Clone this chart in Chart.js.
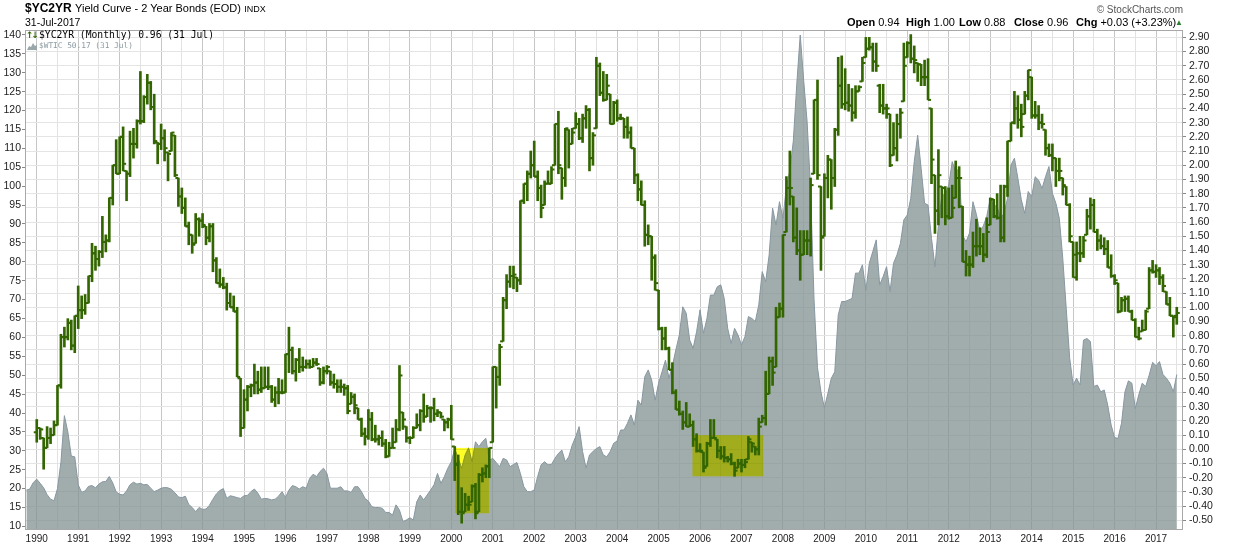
<!DOCTYPE html>
<html>
<head>
<meta charset="utf-8">
<title>$YC2YR Yield Curve - 2 Year Bonds</title>
<script src="https://cdn.jsdelivr.net/npm/chart.js@4.4.1/dist/chart.umd.min.js"></script>
<style>
  html, body { margin: 0; padding: 0; background: #fff; }
  #wrap { position: relative; width: 1248px; height: 552px; overflow: hidden; }
  #c { position: absolute; left: 0; top: 0; }
  .txt { position: absolute; white-space: nowrap; font-family: "Liberation Sans", Arial, sans-serif; color: #000; }
  .mono { font-family: "DejaVu Sans Mono", monospace; }
</style>
</head>
<body>
<div id="wrap">
  <canvas id="c" width="1248" height="552"></canvas>

  <div class="txt" style="left:25px; top:1px; font-size:12px; line-height:14px;"><b>$YC2YR</b> <span style="font-size:11px;">Yield Curve - 2 Year Bonds (EOD)</span> <span style="font-size:9px;">INDX</span></div>
  <div class="txt" style="left:25px; top:16px; font-size:10.5px; line-height:12px;">31-Jul-2017</div>

  <div class="txt" style="right:65px; top:4px; font-size:10px; line-height:11px; color:#555;">&copy; StockCharts.com</div>
  <div class="txt" style="left:847px; top:16px; font-size:11px; line-height:13px;"><b>Open</b> 0.94</div>
  <div class="txt" style="left:906px; top:16px; font-size:11px; line-height:13px;"><b>High</b> 1.00</div>
  <div class="txt" style="left:959px; top:16px; font-size:11px; line-height:13px;"><b>Low</b> 0.88</div>
  <div class="txt" style="left:1014px; top:16px; font-size:11px; line-height:13px;"><b>Close</b> 0.96</div>
  <div class="txt" style="left:1076px; top:16px; font-size:11px; line-height:13px;"><b>Chg</b> +0.03 (+3.23%)</div>
  <div class="txt" style="left:1175px; top:18px; font-size:8px; line-height:10px; color:#2e7d2e;">&#9650;</div>

  <div class="txt" style="left:26px; top:30px; font:bold 9px/10px 'DejaVu Sans', sans-serif; color:#336600; letter-spacing:-2px;">&#8593;&#8595;</div>
  <div class="txt mono" style="left:39px; top:30px; font-size:9.7px; line-height:10px;">$YC2YR (Monthly) 0.96 (31 Jul)</div>
  <svg style="position:absolute; left:27px; top:42px;" width="10" height="8"><path d="M0 8 L2 4 L4 5 L6 1 L8 4 L10 3 L10 8 Z" fill="#9aa8ab"/></svg>
  <div class="txt mono" style="left:39px; top:41px; font-size:7.8px; line-height:9px; color:#8a99a0;">$WTIC 50.17 (31 Jul)</div>
</div>

<script>
// x is months since Jan 1990 (0 = Jan 1990)
const yearTicks = [1990, 1991, 1992, 1993, 1994, 1995, 1996, 1997, 1998, 1999, 2000, 2001, 2002, 2003,
  2004, 2005, 2006, 2007, 2008, 2009, 2010, 2011, 2012, 2013, 2014, 2015, 2016, 2017];
const leftTicks = [10, 15, 20, 25, 30, 35, 40, 45, 50, 55, 60, 65, 70, 75, 80, 85, 90, 95, 100,
  105, 110, 115, 120, 125, 130, 135, 140];
const rightTicks = [-0.5, -0.4, -0.3, -0.2, -0.1, 0, 0.1, 0.2, 0.3, 0.4, 0.5, 0.6, 0.7, 0.8, 0.9, 1.0,
  1.1, 1.2, 1.3, 1.4, 1.5, 1.6, 1.7, 1.8, 1.9, 2.0, 2.1, 2.2, 2.3, 2.4, 2.5, 2.6, 2.7, 2.8, 2.9];

// $YC2YR monthly bars, Jan 1990 .. Jul 2017
const ycOpen = [
  .12, .15, .08, .01, .08, .10, .17, .45, .79, .79, .89, .73,
  .94, .98, .98, 1.03, 1.22, 1.38, 1.34, 1.39, 1.46, 1.47, 1.77, 2.00,
  1.94, 2.20, 1.96, 1.94, 2.15, 2.15, 2.31, 2.31, 2.48, 2.58, 2.41, 2.16,
  2.15, 2.19, 2.09, 2.10, 2.21, 1.91, 1.78, 1.70, 1.57, 1.51, 1.45, 1.62,
  1.61, 1.57, 1.49, 1.57, 1.33, 1.17, 1.16, 1.14, 1.03, 1.00, .97, .50,
  .15, .35, .44, .45, .47, .42, .43, .44, .44, .35, .40, .40,
  .40, .67, .70, .55, .63, .58, .58, .60, .58, .61, .57, .47,
  .55, .55, .47, .46, .44, .44, .43, .32, .37, .29, .21, .11,
  .09, .21, .07, .07, .08, .04, -.05, .01, .05, .14, .26, .16,
  .08, .08, .15, .17, .27, .23, .29, .29, .25, .26, .21, .19,
  .21, .02, -.10, -.44, -.44, -.39, -.37, -.26, -.44, -.18, -.17, -.12,
  .05, .58, .51, .76, 1.05, 1.18, 1.22, 1.21, 1.19, 1.75, 1.87, 1.94,
  2.00, 1.92, 1.84, 1.72, 1.87, 1.87, 2.00, 2.29, 1.98, 1.91, 2.25, 2.15,
  2.26, 2.29, 2.19, 2.33, 2.39, 2.05, 2.26, 2.70, 2.51, 2.46, 2.50, 2.29,
  2.44, 2.33, 2.33, 2.27, 2.23, 2.12, 1.93, 1.83, 1.72, 1.51, 1.50, 1.35,
  1.12, .85, .78, .71, .56, .40, .28, .25, .19, .16, .17, .07,
  -.01, -.02, -.12, .04, .08, .07, -.01, -.05, -.06, -.07, -.10, -.13,
  -.10, -.11, -.07, .05, .02, .00, .19, .22, .39, .62, .58, .93,
  .99, 1.53, 1.84, 1.78, 1.49, 1.40, 1.37, 1.47, 1.47, 1.94, 2.46, 1.85,
  1.50, 1.91, 2.04, 1.91, 2.25, 2.56, 2.43, 2.44, 2.42, 2.37, 2.52, 2.59,
  2.76, 2.82, 2.83, 2.73, 2.56, 2.42, 2.40, 2.36, 2.07, 2.12, 2.29, 2.45,
  2.76, 2.86, 2.75, 2.72, 2.71, 2.62, 2.62, 2.40, 1.93, 1.68, 1.85, 1.84,
  1.64, 1.63, 1.77, 1.91, 1.71, 1.32, 1.30, 1.30, 1.43, 1.43, 1.43, 1.37,
  1.58, 1.76, 1.64, 1.63, 1.49, 1.85, 2.17, 2.30, 2.40, 2.32, 2.36, 2.49,
  2.62, 2.35, 2.35, 2.30, 2.25, 2.12, 2.07, 2.05, 1.96, 1.91, 1.85, 1.72,
  1.46, 1.21, 1.38, 1.38, 1.51, 1.64, 1.72, 1.53, 1.47, 1.43, 1.41, 1.28,
  1.22, 1.17, .97, 1.05, 1.06, .97, .91, .79, .83, .84, .99, 1.26,
  1.25, 1.26, 1.21, 1.11, 1.02, .94, .94
];
const ycHigh = [
  .21, .15, .08, .16, .15, .20, .45, .81, .86, .92, .91, .94,
  1.15, 1.08, 1.09, 1.22, 1.45, 1.43, 1.40, 1.64, 1.51, 1.77, 2.00, 2.18,
  2.20, 2.27, 1.96, 2.24, 2.26, 2.32, 2.66, 2.49, 2.64, 2.59, 2.50, 2.16,
  2.29, 2.25, 2.09, 2.23, 2.21, 1.91, 1.84, 1.77, 1.60, 1.51, 1.66, 1.63,
  1.66, 1.57, 1.59, 1.59, 1.35, 1.27, 1.21, 1.17, 1.10, 1.08, 1.00, .50,
  .42, .45, .46, .60, .55, .58, .58, .58, .45, .44, .50, .49,
  .67, .86, .72, .64, .71, .65, .63, .63, .64, .64, .57, .58,
  .59, .55, .53, .49, .49, .46, .45, .40, .39, .29, .22, .15,
  .28, .26, .17, .10, .13, .07, .05, .15, .21, .59, .26, .16,
  .09, .16, .25, .28, .39, .31, .30, .36, .28, .26, .21, .22,
  .31, .02, -.04, -.27, -.31, -.33, -.25, -.24, -.17, -.13, -.11, .01,
  .58, .58, .74, 1.07, 1.23, 1.29, 1.29, 1.21, 1.75, 1.87, 1.96, 2.10,
  2.17, 1.96, 1.86, 1.89, 1.96, 1.99, 2.29, 2.38, 1.98, 2.26, 2.25, 2.26,
  2.37, 2.33, 2.36, 2.42, 2.40, 2.23, 2.76, 2.72, 2.66, 2.64, 2.50, 2.45,
  2.46, 2.36, 2.33, 2.34, 2.27, 2.12, 1.94, 1.89, 1.75, 1.58, 1.50, 1.37,
  1.12, .86, .86, .72, .61, .42, .34, .27, .33, .25, .20, .11,
  .04, -.02, .05, .21, .21, .07, .02, .02, -.05, -.03, -.09, -.07,
  -.07, -.07, .09, .05, .02, .22, .24, .55, .65, .65, 1.00, 1.03,
  1.51, 1.92, 2.10, 1.78, 1.70, 1.54, 1.54, 1.54, 1.91, 2.46, 2.60, 1.85,
  1.94, 2.07, 2.04, 2.26, 2.76, 2.77, 2.68, 2.57, 2.54, 2.56, 2.56, 2.76,
  2.90, 2.90, 2.86, 2.86, 2.57, 2.57, 2.43, 2.36, 2.30, 2.36, 2.40, 2.86,
  2.87, 2.92, 2.84, 2.72, 2.71, 2.74, 2.75, 2.40, 1.93, 2.11, 1.85, 1.85,
  1.84, 1.86, 2.03, 1.99, 1.71, 1.40, 1.36, 1.53, 1.62, 1.56, 1.52, 1.63,
  1.77, 1.76, 1.80, 1.86, 1.86, 2.17, 2.30, 2.52, 2.49, 2.43, 2.52, 2.67,
  2.62, 2.45, 2.42, 2.36, 2.25, 2.15, 2.15, 2.05, 2.05, 1.91, 1.85, 1.73,
  1.46, 1.46, 1.50, 1.50, 1.69, 1.77, 1.76, 1.55, 1.51, 1.49, 1.47, 1.37,
  1.23, 1.17, 1.07, 1.08, 1.08, .98, .92, .86, .91, .98, 1.28, 1.33,
  1.30, 1.28, 1.23, 1.11, 1.07, .94, 1.00
];
const ycLow = [
  .05, .07, -.14, .01, .04, .10, .17, .43, .72, .77, .70, .68,
  .85, .92, .95, 1.03, 1.18, 1.26, 1.29, 1.35, 1.39, 1.46, 1.72, 1.94,
  1.94, 1.96, 1.75, 1.92, 2.05, 2.12, 2.29, 2.30, 2.43, 2.39, 2.15, 2.01,
  2.11, 2.03, 1.89, 2.10, 1.92, 1.71, 1.66, 1.57, 1.44, 1.38, 1.45, 1.50,
  1.56, 1.44, 1.46, 1.25, 1.17, 1.14, 1.13, .98, 1.00, .97, .51, .09,
  .15, .27, .37, .39, .39, .40, .43, .42, .33, .30, .32, .39,
  .40, .54, .53, .48, .54, .55, .57, .57, .58, .59, .45, .46,
  .53, .45, .43, .40, .40, .38, .25, .32, .25, .21, .09, .03,
  .07, .06, .05, .03, .02, -.06, -.05, .01, .05, .13, .14, .05,
  .04, .08, .15, .13, .19, .23, .19, .20, .23, .22, .13, .15,
  .07, -.22, -.46, -.52, -.44, -.43, -.37, -.49, -.44, -.23, -.20, -.20,
  .05, .29, .45, .76, .99, 1.14, 1.13, 1.11, 1.16, 1.73, 1.75, 1.91,
  1.92, 1.75, 1.63, 1.72, 1.87, 1.87, 2.00, 1.94, 1.76, 1.85, 1.98, 2.15,
  2.26, 2.18, 2.16, 2.26, 1.96, 2.00, 2.26, 2.49, 2.45, 2.46, 2.29, 2.29,
  2.31, 2.32, 2.19, 2.19, 2.12, 1.87, 1.75, 1.72, 1.43, 1.44, 1.19, 1.12,
  .84, .70, .70, .56, .39, .28, .24, .14, .16, .16, .02, -.02,
  -.02, -.16, -.12, .02, .08, -.06, -.07, -.09, -.09, -.11, -.19, -.13,
  -.16, -.13, -.07, -.02, -.04, -.04, .19, .17, .39, .45, .58, .93,
  .93, 1.53, 1.72, 1.46, 1.37, 1.19, 1.37, 1.37, 1.36, 1.94, 1.90, 1.26,
  1.50, 1.77, 1.69, 1.85, 2.21, 2.40, 2.39, 2.38, 2.31, 2.33, 2.52, 2.59,
  2.76, 2.81, 2.66, 2.66, 2.37, 2.36, 2.33, 1.99, 2.07, 2.03, 2.19, 2.45,
  2.76, 2.72, 2.65, 2.59, 2.56, 2.56, 2.46, 1.87, 1.52, 1.58, 1.63, 1.58,
  1.62, 1.63, 1.77, 1.70, 1.32, 1.22, 1.22, 1.28, 1.36, 1.37, 1.32, 1.35,
  1.58, 1.63, 1.62, 1.46, 1.46, 1.78, 2.17, 2.29, 2.26, 2.20, 2.36, 2.46,
  2.33, 2.33, 2.25, 2.26, 2.07, 2.06, 1.96, 1.85, 1.89, 1.79, 1.72, 1.46,
  1.21, 1.19, 1.32, 1.35, 1.51, 1.55, 1.53, 1.40, 1.41, 1.37, 1.28, 1.21,
  1.16, .96, .97, .97, .97, .91, .79, .77, .83, .84, .99, 1.24,
  1.21, 1.16, 1.11, 1.02, .94, .79, .88
];
const ycClose = [
  .15, .14, .01, .08, .10, .17, .45, .79, .79, .89, .73, .94,
  .98, .98, 1.03, 1.22, 1.38, 1.34, 1.39, 1.46, 1.47, 1.77, 2.00, 1.94,
  2.20, 2.01, 1.94, 2.15, 2.15, 2.31, 2.31, 2.48, 2.58, 2.41, 2.17, 2.15,
  2.19, 2.12, 2.08, 2.23, 1.93, 1.78, 1.70, 1.57, 1.51, 1.44, 1.62, 1.61,
  1.58, 1.49, 1.57, 1.33, 1.17, 1.16, 1.14, 1.03, 1.00, .97, .51, .15,
  .35, .44, .45, .47, .42, .43, .44, .44, .35, .40, .40, .40,
  .67, .70, .55, .63, .58, .58, .60, .58, .61, .60, .47, .55,
  .58, .47, .46, .44, .44, .43, .27, .37, .31, .21, .11, .09,
  .21, .07, .07, .08, .04, -.05, .01, .01, .14, .52, .21, .08,
  .08, .15, .17, .27, .23, .29, .29, .25, .26, .23, .19, .21,
  .07, -.11, -.44, -.45, -.39, -.39, -.26, -.45, -.18, -.17, -.12, .01,
  .58, .51, .72, 1.05, 1.18, 1.22, 1.23, 1.19, 1.75, 1.87, 1.94, 2.00,
  1.92, 1.84, 1.70, 1.87, 1.87, 1.97, 2.29, 2.00, 1.91, 2.26, 2.15, 2.23,
  2.29, 2.19, 2.33, 2.39, 2.05, 2.21, 2.70, 2.51, 2.46, 2.56, 2.29, 2.44,
  2.33, 2.33, 2.27, 2.23, 2.12, 1.93, 1.83, 1.72, 1.51, 1.50, 1.35, 1.17,
  .85, .78, .71, .56, .40, .28, .25, .19, .16, .17, .07, -.01,
  -.01, -.13, .04, .08, .08, -.01, -.05, -.06, -.07, -.10, -.15, -.10,
  -.11, -.09, .07, .04, .00, .16, .22, .39, .62, .54, .93, .99,
  1.51, 1.84, 1.84, 1.49, 1.40, 1.37, 1.47, 1.47, 1.86, 2.46, 1.93, 1.49,
  1.91, 2.04, 1.91, 2.25, 2.56, 2.43, 2.44, 2.42, 2.37, 2.52, 2.55, 2.72,
  2.82, 2.83, 2.73, 2.70, 2.42, 2.40, 2.40, 2.00, 2.12, 2.29, 2.37, 2.70,
  2.86, 2.75, 2.74, 2.71, 2.62, 2.62, 2.46, 2.04, 1.68, 1.93, 1.84, 1.64,
  1.63, 1.70, 1.91, 1.91, 1.32, 1.30, 1.30, 1.43, 1.43, 1.43, 1.37, 1.53,
  1.76, 1.64, 1.63, 1.49, 1.85, 2.17, 2.30, 2.40, 2.32, 2.27, 2.49, 2.67,
  2.35, 2.35, 2.30, 2.29, 2.12, 2.07, 2.05, 1.96, 1.96, 1.86, 1.72, 1.50,
  1.37, 1.38, 1.38, 1.47, 1.64, 1.72, 1.53, 1.47, 1.43, 1.41, 1.28, 1.22,
  1.19, .97, 1.05, 1.06, .97, .91, .79, .78, .84, .97, 1.26, 1.25,
  1.26, 1.21, 1.15, 1.02, .94, .93, .96
];

// $WTIC monthly closes, Oct 1989 .. Jul 2017 (starts 3 months before Jan 1990)
const wticStart = -3;
const wtic = [
  19.6, 19.9, 21.6,
  22.5, 21.4, 20.2, 18.4, 17.2, 16.8, 20.0, 27.0, 39.3, 35.0, 28.6, 28.4,
  21.0, 19.0, 19.4, 20.6, 20.8, 20.2, 21.2, 21.8, 21.9, 23.2, 21.5, 19.1,
  18.5, 18.3, 19.4, 21.0, 21.7, 21.2, 21.4, 21.0, 21.1, 20.1, 19.2, 19.6,
  20.1, 20.3, 20.2, 19.8, 18.9, 17.8, 17.6, 18.0, 15.8, 15.0, 13.9, 15.0,
  14.5, 14.6, 15.6, 17.2, 18.6, 19.5, 20.0, 17.4, 18.1, 17.9, 17.6, 17.4,
  18.1, 18.2, 19.2, 19.9, 18.8, 17.2, 17.4, 17.3, 17.0, 17.2, 18.0, 19.2,
  17.6, 19.6, 20.8, 20.5, 19.9, 20.5, 20.1, 22.7, 23.8, 23.2, 24.5, 25.4,
  24.0, 20.1, 20.1, 20.1, 20.5, 19.4, 19.4, 19.0, 20.5, 20.5, 19.2, 17.4,
  16.7, 15.2, 15.0, 15.0, 14.8, 13.7, 13.7, 13.0, 15.7, 14.3, 11.3, 11.7,
  12.3, 11.7, 16.5, 18.3, 17.0, 18.3, 19.6, 21.0, 24.0, 21.4, 23.2, 25.4,
  27.1, 30.6, 28.0, 25.4, 28.9, 30.8, 27.1, 32.4, 31.1, 32.4, 33.3, 27.5,
  28.0, 26.9, 25.8, 28.0, 27.6, 25.8, 26.4, 26.9, 24.0, 20.5, 19.2, 19.2,
  19.6, 23.2, 26.3, 27.1, 26.3, 26.4, 28.0, 29.3, 30.2, 27.1, 28.4, 31.5,
  33.7, 36.4, 29.8, 25.4, 28.9, 29.8, 30.6, 31.1, 28.9, 28.4, 29.8, 32.0,
  32.6, 35.5, 35.5, 37.3, 39.5, 36.8, 43.4, 42.1, 49.6, 51.4, 48.7, 43.4,
  47.9, 50.9, 54.0, 49.2, 52.5, 56.7, 60.6, 68.1, 66.4, 59.3, 57.1, 61.5,
  67.3, 61.1, 65.0, 71.2, 71.2, 73.4, 73.9, 70.3, 62.4, 58.4, 62.4, 60.6,
  58.0, 60.2, 65.5, 65.0, 64.2, 68.6, 77.4, 74.7, 81.8, 94.2, 89.7, 95.9,
  91.5, 99.9, 104.0, 112.0, 127.0, 140.0, 128.0, 117.0, 99.0, 70.0, 52.0, 45.6,
  41.4, 45.2, 49.2, 50.9, 65.9, 69.5, 69.5, 69.9, 70.3, 77.0, 77.0, 79.2,
  72.5, 79.6, 82.7, 85.8, 73.9, 76.1, 78.7, 72.1, 79.6, 81.8, 84.9, 91.1,
  92.4, 96.8, 106.5, 113.5, 104.7, 95.5, 95.0, 86.2, 78.7, 89.7, 97.7, 97.7,
  100.3, 106.5, 103.8, 104.7, 87.0, 85.3, 87.6, 95.9, 92.5, 88.0, 89.5, 92.0,
  96.8, 95.0, 94.6, 91.5, 92.8, 96.8, 105.6, 107.4, 102.1, 96.4, 92.8, 98.6,
  97.2, 102.5, 101.6, 99.4, 102.5, 105.2, 98.1, 95.5, 91.5, 80.9, 67.7, 54.5,
  47.4, 49.2, 47.4, 59.3, 59.7, 58.9, 47.0, 47.4, 45.6, 46.1, 42.1, 36.8,
  33.5, 33.3, 37.3, 45.6, 48.5, 47.9, 41.2, 44.8, 47.9, 47.0, 50.0, 53.4,
  52.5, 53.6, 50.2, 49.2, 47.9, 45.6, 50.17
];

// highlighted periods (month index, right-axis values)
const highlightBoxes = [
  { from: 121.1, to: 130.9, low: -0.45, high: 0.01 },
  { from: 189.8, to: 210.3, low: -0.19, high: 0.10 }
];

const GREEN = '#336600';
const axisFont = { family: 'Liberation Sans', size: 10.5 };

const chartPlugin = {
  id: 'ycExtras',
  afterDatasetDraw(chart, args) {
    if (args.index !== 0) return;
    const { ctx, chartArea, scales } = chart;
    ctx.save();
    ctx.beginPath();
    ctx.rect(chartArea.left, chartArea.top, chartArea.right - chartArea.left, chartArea.bottom - chartArea.top);
    ctx.clip();
    ctx.globalCompositeOperation = 'multiply';
    ctx.fillStyle = 'rgb(255,255,40)';
    highlightBoxes.forEach(b => {
      const x0 = scales.x.getPixelForValue(b.from);
      const x1 = scales.x.getPixelForValue(b.to);
      const y0 = scales.yR.getPixelForValue(b.high);
      const y1 = scales.yR.getPixelForValue(b.low);
      ctx.fillRect(x0, y0, x1 - x0, y1 - y0);
    });
    ctx.restore();
  },
  afterDraw(chart) {
    const { ctx, chartArea } = chart;
    ctx.save();
    ctx.strokeStyle = '#a8a8a8';
    ctx.lineWidth = 1;
    ctx.strokeRect(chartArea.left + 0.5, chartArea.top + 0.5,
      chartArea.right - chartArea.left - 1, chartArea.bottom - chartArea.top - 1);
    ctx.restore();
  }
};

new Chart(document.getElementById('c'), {
  data: {
    datasets: [
      {
        type: 'line',
        label: '$WTIC',
        data: wtic.map((v, j) => ({ x: j + wticStart, y: v })),
        yAxisID: 'yL',
        xAxisID: 'x',
        borderColor: '#8796a0',
        borderWidth: 1,
        backgroundColor: 'rgba(130,146,146,0.75)',
        fill: 'start',
        pointRadius: 0,
        tension: 0,
        order: 3
      },
      {
        type: 'bar',
        label: '$YC2YR',
        data: ycHigh.map((h, i) => ({ x: i, y: [ycLow[i], h] })),
        yAxisID: 'yR',
        xAxisID: 'x',
        backgroundColor: GREEN,
        barThickness: 2,
        order: 2
      },
      {
        type: 'line',
        label: 'open',
        data: ycOpen.map((v, i) => ({ x: i, y: v })),
        yAxisID: 'yR',
        xAxisID: 'x',
        showLine: false,
        pointStyle: 'dash',
        pointRotation: 180,
        pointRadius: 3,
        pointBorderWidth: 2,
        pointBorderColor: GREEN,
        pointBackgroundColor: 'rgba(0,0,0,0)',
        order: 1
      },
      {
        type: 'line',
        label: 'close',
        data: ycClose.map((v, i) => ({ x: i, y: v })),
        yAxisID: 'yR',
        xAxisID: 'x',
        showLine: false,
        pointStyle: 'dash',
        pointRotation: 0,
        pointRadius: 3,
        pointBorderWidth: 2,
        pointBorderColor: GREEN,
        pointBackgroundColor: 'rgba(0,0,0,0)',
        order: 1
      }
    ]
  },
  options: {
    responsive: false,
    animation: false,
    devicePixelRatio: 1,
    events: [],
    layout: { padding: { top: 30, left: 0, right: 0, bottom: 0 } },
    plugins: {
      legend: { display: false },
      tooltip: { enabled: false }
    },
    scales: {
      x: {
        type: 'linear',
        position: 'bottom',
        min: -3.4,
        max: 331.8,
        offset: false,
        afterBuildTicks: (scale) => {
          const t = [];
          yearTicks.forEach(y => {
            const m = (y - 1990) * 12;
            t.push({ value: m });
            if (m + 6 <= scale.max) t.push({ value: m + 6 });
          });
          scale.ticks = t;
        },
        afterFit: (scale) => { scale.height = 22; },
        ticks: {
          autoSkip: false,
          maxRotation: 0,
          padding: 3,
          color: '#222',
          font: { family: 'Liberation Sans', size: 10 },
          callback: (v) => (v % 12 === 0 ? String(1990 + v / 12) : '')
        },
        grid: {
          offset: false,
          drawTicks: false,
          color: (ctx) => (ctx.tick && ctx.tick.value % 12 === 0 ? '#c6c6c6' : '#e2e2e2')
        },
        border: { display: false }
      },
      yL: {
        type: 'linear',
        position: 'left',
        min: 9.05,
        max: 141.32,
        afterBuildTicks: (scale) => { scale.ticks = leftTicks.map(v => ({ value: v })); },
        afterFit: (scale) => { scale.width = 25; },
        ticks: {
          autoSkip: false,
          padding: 1,
          color: '#222',
          font: axisFont,
          callback: (v) => String(v)
        },
        grid: {
          drawOnChartArea: false,
          drawTicks: true,
          tickLength: 3,
          tickColor: '#888'
        },
        border: { display: false }
      },
      yR: {
        type: 'linear',
        position: 'right',
        min: -0.568,
        max: 2.952,
        afterBuildTicks: (scale) => { scale.ticks = rightTicks.map(v => ({ value: v })); },
        afterFit: (scale) => { scale.width = 65; },
        ticks: {
          autoSkip: false,
          padding: 3,
          color: '#222',
          font: axisFont,
          callback: (v) => v.toFixed(2)
        },
        grid: {
          color: '#e4e4e4',
          drawTicks: true,
          tickLength: 3,
          tickColor: '#888'
        },
        border: { display: false }
      }
    }
  },
  plugins: [chartPlugin]
});
</script>
</body>
</html>
